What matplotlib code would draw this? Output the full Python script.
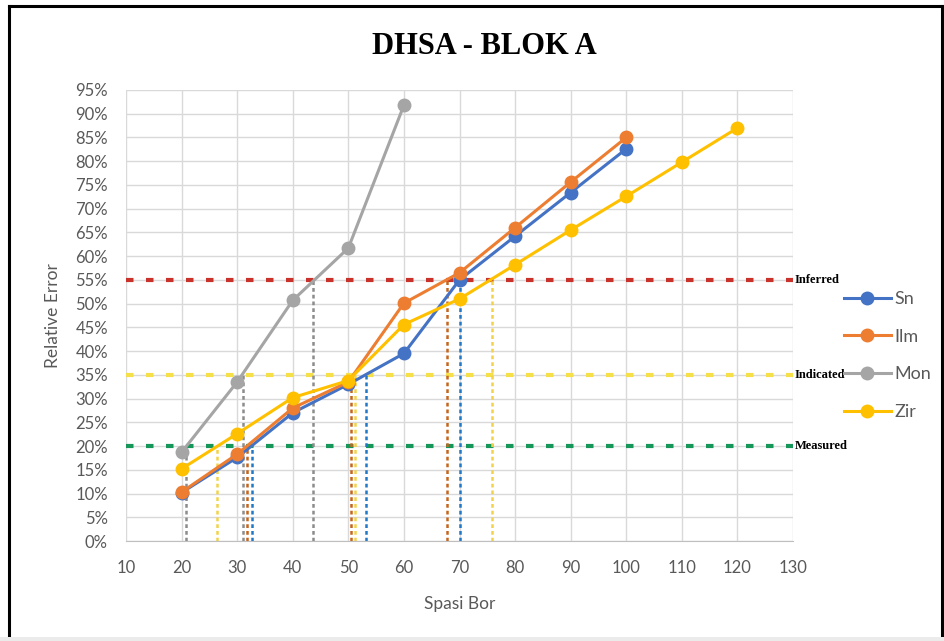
import matplotlib
matplotlib.use("Agg")
import matplotlib.pyplot as plt
from matplotlib.lines import Line2D
from matplotlib.patches import Rectangle
from matplotlib.ticker import MultipleLocator, FuncFormatter

# --- data (Relative Error in %) ---
SN_X = [20, 30, 40, 50, 60, 70, 80, 90, 100]
SN_Y = [10.2, 17.6, 27.0, 33.0, 39.5, 55.0, 64.2, 73.4, 82.6]
ILM_X = [20, 30, 40, 50, 60, 70, 80, 90, 100]
ILM_Y = [10.3, 18.3, 28.0, 33.5, 50.1, 56.5, 66.0, 75.6, 85.0]
MON_X = [20, 30, 40, 50, 60]
MON_Y = [18.7, 33.5, 50.7, 61.7, 91.8]
ZIR_X = [20, 30, 40, 50, 60, 70, 80, 90, 100, 110, 120]
ZIR_Y = [15.2, 22.6, 30.2, 33.8, 45.6, 51.0, 58.2, 65.5, 72.6, 79.8, 87.0]

# class thresholds
THRESH = [55, 35, 20]
THRESH_LABELS = ["Inferred", "Indicated", "Measured"]
THRESH_COLORS = ["#C8322A", "#F5E04A", "#17965A"]

# spacing where each series crosses a threshold: (x, threshold)
SN_CROSS = [(32.6, 20), (53.1, 35), (70.1, 55)]
ILM_CROSS = [(31.7, 20), (50.4, 35), (67.8, 55)]
MON_CROSS = [(20.8, 20), (31.0, 35), (43.6, 55)]
ZIR_CROSS = [(26.3, 20), (51.2, 35), (75.8, 55)]

SERIES = [
    ("Sn", SN_X, SN_Y, "#4472C4", SN_CROSS, "#1F78C8"),
    ("Ilm", ILM_X, ILM_Y, "#ED7D31", ILM_CROSS, "#C5651F"),
    ("Mon", MON_X, MON_Y, "#A5A5A5", MON_CROSS, "#8C8C8C"),
    ("Zir", ZIR_X, ZIR_Y, "#FFC000", ZIR_CROSS, "#F2D24A"),
]

W, H = 945, 641
fig = plt.figure(figsize=(W / 100, H / 100), dpi=100)
ax = fig.add_axes([126 / W, 1 - 541 / H, (793 - 126) / W, (541 - 90) / H])

# outer frame: black left/top/right, light grey strip at the bottom
for xs, ys in [((9, 9), (6, 641)), ((9, 942), (6, 6)), ((942, 942), (6, 641))]:
    fig.add_artist(Line2D([x / W for x in xs], [1 - y / H for y in ys],
                          color="black", linewidth=2.2, transform=fig.transFigure))
fig.patches.append(Rectangle((0, 0), 1, 4 / H, transform=fig.transFigure,
                             facecolor="#EBEBEB", edgecolor="none", zorder=5))

ax.set_xlim(10, 130)
ax.set_ylim(0, 95)
ax.xaxis.set_major_locator(MultipleLocator(10))
ax.yaxis.set_major_locator(MultipleLocator(5))
ax.yaxis.set_major_formatter(FuncFormatter(lambda v, p: f"{v:.0f}%"))
ax.grid(True, color="#D9D9D9", linewidth=1)
ax.set_axisbelow(True)
for s in ("top", "right", "left"):
    ax.spines[s].set_visible(False)
ax.spines["bottom"].set_color("#BFBFBF")
ax.tick_params(axis="x", length=0, labelsize=12, labelcolor="#595959", pad=14)
ax.tick_params(axis="y", length=0, labelsize=12, labelcolor="#595959", pad=13)
for lab in ax.get_xticklabels() + ax.get_yticklabels():
    lab.set_family("Lato")

# threshold lines
for t, c in zip(THRESH, THRESH_COLORS):
    ax.plot([10, 130], [t, t], color=c, linewidth=3, dashes=(1.8, 3), zorder=2)

# vertical drop lines
for name, xs, ys, col, cross, dcol in SERIES:
    for cx, cy in cross:
        ax.plot([cx, cx], [0, cy], color=dcol, linewidth=1.8, dashes=(1.5, 1.2), zorder=2)

handles = []
for name, xs, ys, col, cross, dcol in SERIES:
    h, = ax.plot(xs, ys, color=col, linewidth=2.2, marker="o", markersize=9,
                 label=name, zorder=3)
    handles.append(h)

for t, lab in zip(THRESH, THRESH_LABELS):
    ax.text(130.3, t, lab, family="Liberation Serif", fontweight="bold", fontsize=9,
            va="center", ha="left", color="black", clip_on=False)

fig.legend(handles=handles, loc="upper left", bbox_to_anchor=(835 / W, 1 - 282 / H),
           frameon=False, prop={"family": "Lato", "size": 13},
           labelspacing=1.2, handlelength=2.6, handletextpad=0.2, borderpad=0)
for txt in fig.legends[0].get_texts():
    txt.set_color("#595959")

fig.text(484 / W, 1 - 47 / H, "DHSA - BLOK A", family="Liberation Serif",
         fontweight="bold", fontsize=22, ha="center", va="center")
ax.set_xlabel("Spasi Bor", family="Lato", fontsize=12.5, color="#595959", labelpad=14)
ax.set_ylabel("Relative Error", family="Lato", fontsize=12.5, color="#595959", labelpad=10)

fig.savefig("out.png", dpi=100)
